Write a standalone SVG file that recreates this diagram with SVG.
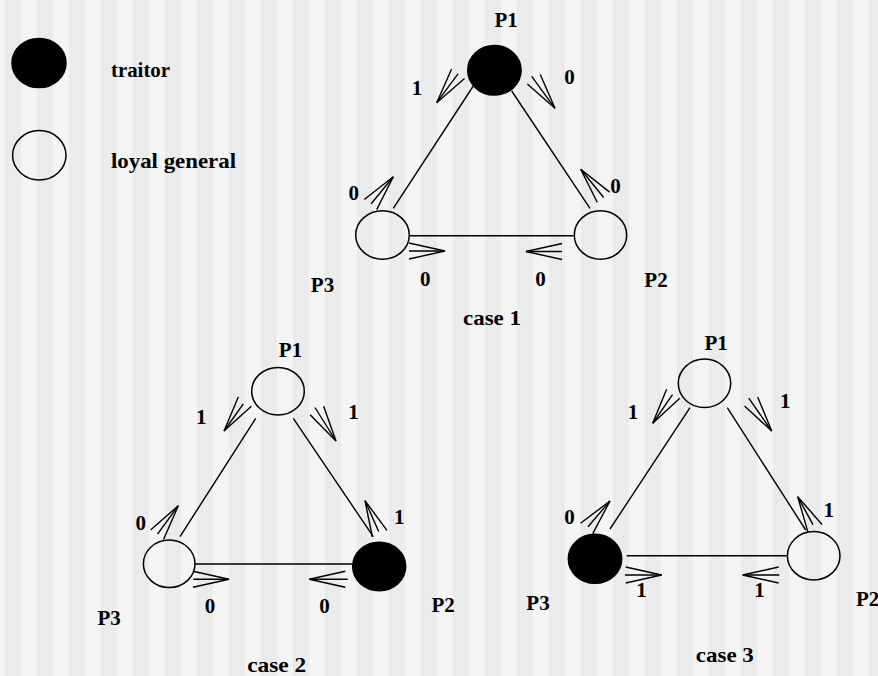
<svg xmlns="http://www.w3.org/2000/svg" width="878" height="676" viewBox="0 0 878 676">
<defs>
<pattern id="stripes" x="5" y="0" width="32" height="676" patternUnits="userSpaceOnUse">
<rect x="0" y="0" width="16" height="676" fill="#ebebeb"/>
<rect x="16" y="0" width="16" height="676" fill="#f4f4f4"/>
</pattern>
<marker id="ah" viewBox="-40 -12 44 24" refX="0" refY="0" markerWidth="44" markerHeight="24" markerUnits="userSpaceOnUse" orient="auto">
<path d="M-36,-8 L0,0 L-36,8" fill="none" stroke="#000" stroke-width="1.4"/>
</marker>
<style>
.n{stroke:#000;stroke-width:1.5}
.open{fill:none}
.trait{fill:#000}
.e{stroke:#000;stroke-width:1.4;fill:none}
.a{stroke:#000;stroke-width:1.4;fill:none;marker-end:url(#ah)}
text{font-family:"Liberation Serif","Times New Roman",serif;font-size:21px;font-weight:bold;fill:#000}
.c{text-anchor:middle}
</style>
</defs>
<rect x="0" y="0" width="878" height="676" fill="url(#stripes)"/>

<g id="legend">
<ellipse class="n trait" cx="39" cy="63" rx="27" ry="24.5"/>
<text x="111" y="76.7" textLength="59" lengthAdjust="spacingAndGlyphs">traitor</text>
<ellipse class="n open" cx="39.3" cy="155.3" rx="26.7" ry="24.7"/>
<text x="111" y="168.3" textLength="125" lengthAdjust="spacingAndGlyphs">loyal general</text>
</g>

<!-- case 1 -->
<g id="c1-p1"><ellipse class="n trait" cx="494.4" cy="70.3" rx="26.7" ry="24.8"/><text class="c" x="506.2" y="27">P1</text></g>
<g id="c1-p2"><ellipse class="n open" cx="600.5" cy="235" rx="26.2" ry="24.2"/><text class="c" x="656" y="287">P2</text></g>
<g id="c1-p3"><ellipse class="n open" cx="382.5" cy="235" rx="26.8" ry="24.2"/><text class="c" x="322.5" y="292">P3</text></g>
<g id="c1-connectors">
<line class="e" x1="473.3" y1="86" x2="393.3" y2="208.3"/>
<line class="e" x1="511.7" y1="91" x2="590" y2="208.3"/>
<line class="e" x1="410" y1="235.7" x2="573.5" y2="235.7"/>
<line class="a" x1="458" y1="73.8" x2="436.7" y2="102.7"/>
<line class="a" x1="531.7" y1="76.3" x2="555" y2="108.3"/>
<line class="a" x1="371.2" y1="203.7" x2="393.3" y2="176.7"/>
<line class="a" x1="603.7" y1="197.5" x2="580.7" y2="169.3"/>
<line class="a" x1="409" y1="251" x2="445" y2="251"/>
<line class="a" x1="562" y1="251.5" x2="526" y2="251.5"/>
<text class="c" x="416.9" y="95">1</text>
<text class="c" x="569.5" y="83.5">0</text>
<text class="c" x="353.8" y="200">0</text>
<text class="c" x="615.5" y="192.7">0</text>
<text class="c" x="425.3" y="286">0</text>
<text class="c" x="540.5" y="286">0</text>
</g>
<text class="c" x="492" y="325" textLength="58" lengthAdjust="spacingAndGlyphs">case 1</text>

<!-- case 2 -->
<g id="c2-p1"><ellipse class="n open" cx="278" cy="391.2" rx="26.3" ry="23.8"/><text class="c" x="290.5" y="357.3">P1</text></g>
<g id="c2-p2"><ellipse class="n trait" cx="379.2" cy="566.5" rx="26.5" ry="24.2"/><text class="c" x="443.2" y="611.7">P2</text></g>
<g id="c2-p3"><ellipse class="n open" cx="169.2" cy="563.8" rx="25.8" ry="23.8"/><text class="c" x="109.2" y="625">P3</text></g>
<g id="c2-connectors">
<line class="e" x1="255.7" y1="418.3" x2="180" y2="536.7"/>
<line class="e" x1="293.3" y1="418.3" x2="373.3" y2="536.7"/>
<line class="e" x1="195" y1="564" x2="352.7" y2="564"/>
<line class="a" x1="243.3" y1="403.8" x2="224" y2="431"/>
<line class="a" x1="315" y1="407.5" x2="336" y2="441"/>
<line class="a" x1="157.5" y1="534.2" x2="178.3" y2="505.7"/>
<line class="a" x1="378.7" y1="531.5" x2="365" y2="500.7"/>
<line class="a" x1="193.3" y1="579.3" x2="229" y2="579.3"/>
<line class="a" x1="347.7" y1="579.3" x2="309.3" y2="579.3"/>
<text class="c" x="201.2" y="424">1</text>
<text class="c" x="353.5" y="419">1</text>
<text class="c" x="140.8" y="530">0</text>
<text class="c" x="399.2" y="524.3">1</text>
<text class="c" x="210" y="612.7">0</text>
<text class="c" x="324.5" y="612.7">0</text>
</g>
<text class="c" x="276.7" y="671.7" textLength="59" lengthAdjust="spacingAndGlyphs">case 2</text>

<!-- case 3 -->
<g id="c3-p1"><ellipse class="n open" cx="704.5" cy="383.3" rx="26.2" ry="24.3"/><text class="c" x="716.2" y="350">P1</text></g>
<g id="c3-p2"><ellipse class="n open" cx="813.7" cy="555.8" rx="26.3" ry="24.2"/><text x="856" y="605.7">P2</text></g>
<g id="c3-p3"><ellipse class="n trait" cx="595" cy="558.8" rx="26.7" ry="24.5"/><text class="c" x="538" y="610">P3</text></g>
<g id="c3-connectors">
<line class="e" x1="690" y1="407.7" x2="610" y2="529"/>
<line class="e" x1="727.3" y1="407.7" x2="805.7" y2="530"/>
<line class="e" x1="626.7" y1="555.7" x2="786.7" y2="555.7"/>
<line class="a" x1="672.5" y1="394.7" x2="652.7" y2="423.3"/>
<line class="a" x1="748.8" y1="398.2" x2="771.7" y2="431"/>
<line class="a" x1="588" y1="526.8" x2="610" y2="501"/>
<line class="a" x1="813" y1="524.7" x2="797.7" y2="496.7"/>
<line class="a" x1="625" y1="575" x2="661.7" y2="575"/>
<line class="a" x1="779.3" y1="575" x2="742.7" y2="575"/>
<text class="c" x="633" y="419">1</text>
<text class="c" x="785.3" y="408.3">1</text>
<text class="c" x="569.5" y="524">0</text>
<text class="c" x="828.7" y="516.7">1</text>
<text class="c" x="641.5" y="597.3">1</text>
<text class="c" x="759.5" y="597.3">1</text>
</g>
<text class="c" x="724.8" y="661.7" textLength="58" lengthAdjust="spacingAndGlyphs">case 3</text>
</svg>
